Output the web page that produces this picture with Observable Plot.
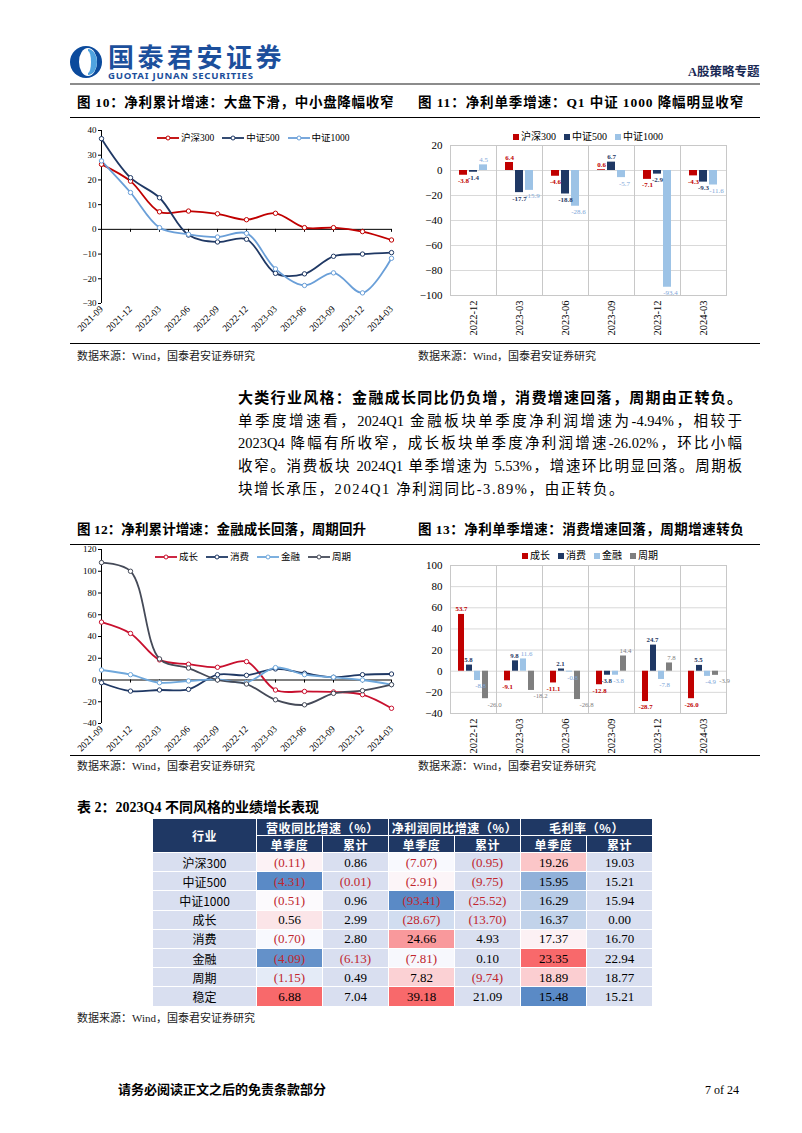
<!DOCTYPE html>
<html><head><meta charset="utf-8">
<script src="https://cdn.jsdelivr.net/npm/d3@7"></script>
<script src="https://cdn.jsdelivr.net/npm/@observablehq/plot@0.6"></script>
<style>
body{margin:0;background:#fff;}
#page{position:relative;width:802px;height:1133px;overflow:hidden;font-family:"Liberation Serif","Noto Sans CJK SC",serif;color:#000;background:#fff;}
.abs{position:absolute;}
.hr{position:absolute;height:0;border-top:1px solid #000;}
.ftitle{position:absolute;font-weight:bold;font-size:13.5px;white-space:nowrap;line-height:16px;}
.src{position:absolute;font-size:11px;color:#222;white-space:nowrap;line-height:13px;}
.legend{position:absolute;display:flex;align-items:center;font-size:9.5px;white-space:nowrap;line-height:10px;}
.legend .it{display:flex;align-items:center;margin-right:8px;}
.legend .sq{display:inline-block;width:6px;height:6px;margin-right:2px;}
.pl{position:absolute;left:238px;width:504px;white-space:nowrap;font-size:14.5px;line-height:20px;text-align:justify;text-align-last:justify;}
table.t{position:absolute;left:152px;top:818px;border-collapse:collapse;table-layout:fixed;width:500px;}
table.t td, table.t th{border:1.5px solid #fff;padding:0;text-align:center;overflow:hidden;white-space:nowrap;}
table.t th{background:#1f3864;color:#fff;font-weight:bold;font-size:12px;height:16px;line-height:15px;letter-spacing:0.6px;font-family:"Noto Sans CJK SC",sans-serif;}
table.t td{height:18.2px;line-height:17px;font-size:13px;}
table.t td.lab{font-family:"Noto Sans CJK SC",sans-serif;font-size:12px;background:#d9dff0;}
</style></head>
<body><div id="page"></div>
<script>
// ---------- data ----------
const quartersCum = ["2021-09","2021-12","2022-03","2022-06","2022-09","2022-12","2023-03","2023-06","2023-09","2023-12","2024-03"];
const quartersSingle = ["2022-12","2023-03","2023-06","2023-09","2023-12","2024-03"];
const indexNames = ["沪深300","中证500","中证1000"];
const hs300Cum  = [26.3, 19.5, 7.1, 7.4, 6.3, 3.9, 6.5, 0.7, 0.7, -0.9, -4.3];
const zz500Cum  = [36.7, 20.9, 12.8, -2.3, -5.1, -4.0, -17.8, -18.0, -10.9, -10.0, -9.4];
const zz1000Cum = [27.7, 14.9, 0.7, -2.0, -3.1, -1.6, -16.0, -22.7, -17.6, -25.7, -11.7];
const hs300Single  = [-3.8, 6.4, -4.6, 0.6, -7.1, -4.3];
const zz500Single  = [-1.4, -17.7, -18.8, 6.7, -2.9, -9.3];
const zz1000Single = [4.5, -15.9, -28.6, -5.7, -93.4, -11.6];
const styleNames = ["成长","消费","金融","周期"];
const growthCum  = [53.2, 42.8, 18.5, 14.5, 11.7, 16.9, -9.2, -10.5, -11.0, -13.5, -26.0];
const consumeCum = [-2.5, -10.2, -9.2, -8.6, 4.9, 4.3, 10.2, 6.2, 2.5, 4.9, 5.5];
const financeCum = [9.2, 4.9, -2.5, -0.9, 0.6, -2.2, 11.4, 4.9, 2.5, 0.0, -4.3];
const cycleCum   = [108, 100, 19.4, 11.0, 0.0, -3.7, -18.2, -22.8, -12.3, -9.8, -4.3];
const growthSingle  = [53.7, -9.1, -11.1, -12.8, -28.7, -26.0];
const consumeSingle = [5.8, 9.8, 2.1, -3.8, 24.7, 5.5];
const financeSingle = [-8.8, 11.6, -0.8, -3.8, -7.8, -4.9];
const cycleSingle   = [-26.0, -18.2, -26.8, 14.4, 7.8, -3.9];
const yTicks10 = [-30,-20,-10,0,10,20,30,40];
const yTicks11 = [-100,-80,-60,-40,-20,0,20];
const yTicks12 = [-40,-20,0,20,40,60,80,100,120];
const yTicks13 = [-40,-20,0,20,40,60,80,100];
const tableRows = ["沪深300","中证500","中证1000","成长","消费","金融","周期","稳定"];
const revQ   = [-0.11,-4.31,-0.51,0.56,-0.70,-4.09,-1.15,6.88];
const revCum = [0.86,-0.01,0.96,2.99,2.80,-6.13,0.49,7.04];
const npQ    = [-7.07,-2.91,-93.41,-28.67,24.66,-7.81,7.82,39.18];
const npCum  = [-0.95,-9.75,-25.52,-13.70,4.93,0.10,-9.74,21.09];
const gmQ    = [19.26,15.95,16.29,16.37,17.37,23.35,18.89,15.48];
const gmCum  = [19.03,15.21,15.94,0.00,16.70,22.94,18.77,15.21];

const indexColors = ["#c00000","#1f3864","#6a9fd8"];
const indexBarColors = ["#c00000","#1f3864","#9dc3e6"];
const indexLabelColors = ["#c00000","#1f3864","#7ea6d8"];
const styleLineColors = ["#c8102e","#1f3864","#6fa8dc","#454a58"];
const styleBarColors = ["#c00000","#1f3864","#9dc3e6","#7f7f7f"];
const styleLabelColors = ["#c00000","#1f3864","#7ea6d8","#7f7f7f"];

const page = document.getElementById("page");
function add(html){ page.insertAdjacentHTML("beforeend", html); }
function place(node, left, top){ node.style.position="absolute"; node.style.left=left+"px"; node.style.top=top+"px"; page.appendChild(node); }

// ---------- header ----------
add(`<svg class="abs" style="left:69px;top:45px" width="34" height="34" viewBox="0 0 34 34">
<ellipse cx="17" cy="17" rx="16" ry="16" fill="#0b4a9c"/>
<ellipse cx="19" cy="17" rx="9" ry="14" fill="#fff"/>
<path d="M19 4 A9 13 0 0 1 19 30 Z" fill="#4fa3df"/>
<ellipse cx="19" cy="17" rx="3" ry="11" fill="#fff"/></svg>`);
add(`<div class="abs" style="left:108px;top:43px;font-family:'Noto Sans CJK SC';font-weight:bold;font-size:26px;letter-spacing:3.5px;color:#1c4f9c;line-height:26px">国泰君安证券</div>`);
add(`<div class="abs" style="left:108px;top:71px;font-family:'Noto Sans','DejaVu Sans',sans-serif;font-weight:bold;font-size:9.6px;letter-spacing:0.75px;color:#1c4f9c;line-height:10px">GUOTAI JUNAN SECURITIES</div>`);
add(`<div class="abs" style="left:688px;top:65px;font-weight:bold;font-size:12.5px;color:#1a2a55;line-height:15px">A股策略专题</div>`);
add(`<div class="abs" style="left:70px;top:83px;width:690px;height:2px;background:#8c8c8c"></div>`);

// ---------- section 1 titles ----------
add(`<div class="ftitle" style="left:77px;top:95px;letter-spacing:0.7px">图 10：净利累计增速：大盘下滑，中小盘降幅收窄</div>`);
add(`<div class="ftitle" style="left:418px;top:95px;letter-spacing:0.9px">图 11：净利单季增速：Q1 中证 1000 降幅明显收窄</div>`);
add(`<div class="hr" style="left:70px;top:117px;width:690px"></div>`);

const axisStyle = {fontFamily:"Liberation Serif", fontSize:"9px", color:"#000", background:"transparent", overflow:"visible"};

// ---------- chart 10 ----------
const cum10 = indexNames.flatMap((name,i)=> quartersCum.map((q,j)=>({q, name, v:[hs300Cum,zz500Cum,zz1000Cum][i][j]})));
const c10 = Plot.plot({
  width:330, height:222, marginLeft:31, marginRight:9, marginTop:10, marginBottom:39,
  style:axisStyle,
  x:{type:"point", domain:quartersCum, padding:0},
  y:{domain:[-30,40]},
  color:{domain:indexNames, range:indexColors},
  marks:[
    Plot.ruleX([quartersCum[0]], {stroke:"#000", strokeWidth:1}),
    Plot.ruleY([0], {stroke:"#000", strokeWidth:1}),
    Plot.ruleX(quartersCum, {y1:0, y2:-1.2, stroke:"#000"}),
    Plot.axisY({ticks:yTicks10, tickSize:3, tickPadding:2, label:null, fontSize:9}),
    Plot.axisX({tickRotate:-45, tickSize:0, tickPadding:4, label:null, fontSize:9.5}),
    Plot.line(cum10, {x:"q", y:"v", stroke:"name", curve:"catmull-rom", strokeWidth:1.8}),
    Plot.dot(cum10, {x:"q", y:"v", stroke:"name", fill:"#fff", r:2.2, strokeWidth:1})
  ]
});
place(c10, 70, 120);

function lineLegend(names, colors, left, top){
  const items = names.map((n,i)=>`<span class="it"><svg width="22" height="8"><line x1="0" y1="4" x2="22" y2="4" stroke="${colors[i]}" stroke-width="1.8"/><circle cx="11" cy="4" r="2" fill="#fff" stroke="${colors[i]}"/></svg><span style="margin-left:2px">${n}</span></span>`).join("");
  add(`<div class="legend" style="left:${left}px;top:${top}px">${items}</div>`);
}
function barLegend(names, colors, left, top){
  const items = names.map((n,i)=>`<span class="it"><span class="sq" style="background:${colors[i]}"></span>${n}</span>`).join("");
  add(`<div class="legend" style="left:${left}px;top:${top}px;font-size:10px">${items}</div>`);
}
lineLegend(indexNames, indexColors, 157, 133);

// ---------- bar chart helper ----------
function barChart(cats, names, seriesArr, colors, labelColors, boldCount, yDomain, yTicks, opts){
  const data = cats.flatMap((q,j)=> names.map((name,i)=>({q, name, i, v:seriesArr[i][j]})));
  const marks = [
    Plot.gridY({ticks:yTicks, stroke:"#d9d9d9", strokeOpacity:1}),
    Plot.frame({stroke:"#c8c8c8"}),
    Plot.axisY({ticks:yTicks, tickSize:0, tickPadding:8, label:null, fontSize:11}),
    Plot.axisFx({tickRotate:-90, tickSize:0, tickPadding:5, label:null, fontSize:10.5, anchor:"bottom"}),
    Plot.barY(data, {fx:"q", x:"name", y:"v", fill:"name"})
  ];
  names.forEach((name,i)=>{
    const common = {fx:"q", x:"name", y:"v", text:d=>d.v.toFixed(1), fill:labelColors[i], fontSize:opts.labelSize, fontWeight: i<boldCount ? "bold":"normal", fontFamily:"Liberation Serif"};
    marks.push(Plot.text(data.filter(d=>d.i===i && d.v>=0), {...common, lineAnchor:"bottom", dy:-3, dx:(opts.dxPos||[])[i]||0}));
    marks.push(Plot.text(data.filter(d=>d.i===i && d.v<0), {...common, lineAnchor:"top", dy:3, dx:(opts.dxNeg||[])[i]||0}));
  });
  return Plot.plot({
    width:340, height:opts.height, marginLeft:43, marginRight:17, marginTop:opts.marginTop, marginBottom:opts.marginBottom,
    style:{...axisStyle, fontSize:"10px"},
    fx:{domain:cats, padding:0},
    x:{domain:names, paddingInner:opts.pi, paddingOuter:opts.po, axis:null},
    y:{domain:yDomain},
    color:{domain:names, range:colors},
    marks
  });
}

// ---------- chart 11 ----------
const c11 = barChart(quartersSingle, indexNames, [hs300Single, zz500Single, zz1000Single], indexBarColors, indexLabelColors, 2, [-100,20], yTicks11,
  {height:222, marginTop:25, marginBottom:47, pi:0.24, po:0.84, labelSize:7, dxNeg:[0,0,3]});
place(c11, 405, 120);
barLegend(indexNames, indexBarColors, 513, 132);

add(`<div class="hr" style="left:70px;top:343px;width:690px"></div>`);
add(`<div class="src" style="left:77px;top:350px">数据来源：Wind，国泰君安证券研究</div>`);
add(`<div class="src" style="left:418px;top:350px">数据来源：Wind，国泰君安证券研究</div>`);

// ---------- paragraph ----------
add(`<div class="pl" style="top:388px;font-weight:bold;font-size:15px">大类行业风格：金融成长同比仍负增，消费增速回落，周期由正转负。</div>`);
add(`<div class="pl" style="top:411px">单季度增速看，2024Q1 金融板块单季度净利润增速为-4.94%，相较于</div>`);
add(`<div class="pl" style="top:433px">2023Q4 降幅有所收窄，成长板块单季度净利润增速-26.02%，环比小幅</div>`);
add(`<div class="pl" style="top:456px">收窄。消费板块 2024Q1 单季增速为 5.53%，增速环比明显回落。周期板</div>`);
add(`<div class="pl" style="top:479px;text-align:left;text-align-last:left;width:auto;letter-spacing:1.6px">块增长承压，2024Q1 净利润同比-3.89%，由正转负。</div>`);

// ---------- section 2 titles ----------
add(`<div class="ftitle" style="left:77px;top:522px;letter-spacing:0.1px">图 12：净利累计增速：金融成长回落，周期回升</div>`);
add(`<div class="ftitle" style="left:418px;top:522px;letter-spacing:0.5px">图 13：净利单季增速：消费增速回落，周期增速转负</div>`);
add(`<div class="hr" style="left:70px;top:544px;width:690px"></div>`);

// ---------- chart 12 ----------
const cum12 = styleNames.flatMap((name,i)=> quartersCum.map((q,j)=>({q, name, v:[growthCum,consumeCum,financeCum,cycleCum][i][j]})));
const c12 = Plot.plot({
  width:330, height:212, marginLeft:31, marginRight:9, marginTop:4, marginBottom:34,
  style:axisStyle,
  x:{type:"point", domain:quartersCum, padding:0},
  y:{domain:[-40,120]},
  color:{domain:styleNames, range:styleLineColors},
  marks:[
    Plot.ruleX([quartersCum[0]], {stroke:"#000", strokeWidth:1}),
    Plot.ruleY([0], {stroke:"#000", strokeWidth:1}),
    Plot.ruleX(quartersCum, {y1:0, y2:-2.8, stroke:"#000"}),
    Plot.axisY({ticks:yTicks12, tickSize:3, tickPadding:2, label:null, fontSize:9}),
    Plot.axisX({tickRotate:-45, tickSize:0, tickPadding:4, label:null, fontSize:9.5}),
    Plot.line(cum12, {x:"q", y:"v", stroke:"name", curve:"catmull-rom", strokeWidth:1.8}),
    Plot.dot(cum12, {x:"q", y:"v", stroke:"name", fill:"#fff", r:2.2, strokeWidth:1})
  ]
});
place(c12, 70, 545);
lineLegend(styleNames, styleLineColors, 155, 552);

// ---------- chart 13 ----------
const c13 = barChart(quartersSingle, styleNames, [growthSingle, consumeSingle, financeSingle, cycleSingle], styleBarColors, styleLabelColors, 2, [-40,100], yTicks13,
  {height:210, marginTop:20, marginBottom:42, pi:0.235, po:0.86, labelSize:6.8, dxNeg:[0,-1,3,9], dxPos:[0,-1,3,2]});
place(c13, 405, 545);
barLegend(styleNames, styleBarColors, 522, 551);

add(`<div class="hr" style="left:70px;top:755px;width:690px"></div>`);
add(`<div class="src" style="left:77px;top:760px">数据来源：Wind，国泰君安证券研究</div>`);
add(`<div class="src" style="left:418px;top:760px">数据来源：Wind，国泰君安证券研究</div>`);

// ---------- table ----------
add(`<div class="ftitle" style="left:77px;top:800px;font-size:14px">表 2：2023Q4 不同风格的业绩增长表现</div>`);
function heat(values){
  const lo = d3.interpolateRgb("#5A8AC6","#FCFCFF"), hi = d3.interpolateRgb("#FCFCFF","#F8696B");
  return d3.scaleDiverging([d3.min(values), d3.median(values), d3.max(values)], t => t < 0.5 ? lo(t*2) : hi((t-0.5)*2));
}
const hRev = heat(revQ), hNp = heat(npQ), hGm = heat(gmQ);
const fmt = v => v < 0 ? `(${Math.abs(v).toFixed(2)})` : v.toFixed(2);
const cell = (v, bg) => `<td style="background:${bg};color:${v<0?'#c0262d':'#000'}">${fmt(v)}</td>`;
let rowsHtml = tableRows.map((r,k)=>`<tr><td class="lab">${r}</td>${cell(revQ[k],hRev(revQ[k]))}${cell(revCum[k],'#d9dff0')}${cell(npQ[k],hNp(npQ[k]))}${cell(npCum[k],'#d9dff0')}${cell(gmQ[k],hGm(gmQ[k]))}${cell(gmCum[k],'#d9dff0')}</tr>`).join("");
add(`<table class="t"><colgroup><col style="width:104px"><col style="width:66px"><col style="width:66px"><col style="width:66px"><col style="width:66px"><col style="width:66px"><col style="width:66px"></colgroup>
<tr><th rowspan="2">行业</th><th colspan="2">营收同比增速（%）</th><th colspan="2">净利润同比增速（%）</th><th colspan="2">毛利率（%）</th></tr>
<tr><th>单季度</th><th>累计</th><th>单季度</th><th>累计</th><th>单季度</th><th>累计</th></tr>
${rowsHtml}</table>`);
add(`<div class="src" style="left:77px;top:1012px">数据来源：Wind，国泰君安证券研究</div>`);

// ---------- footer ----------
add(`<div class="abs" style="left:118px;top:1082px;font-weight:bold;font-size:13px;line-height:16px">请务必阅读正文之后的免责条款部分</div>`);
add(`<div class="abs" style="left:705px;top:1083px;font-size:12px;line-height:15px">7 of 24</div>`);
</script></body></html>
